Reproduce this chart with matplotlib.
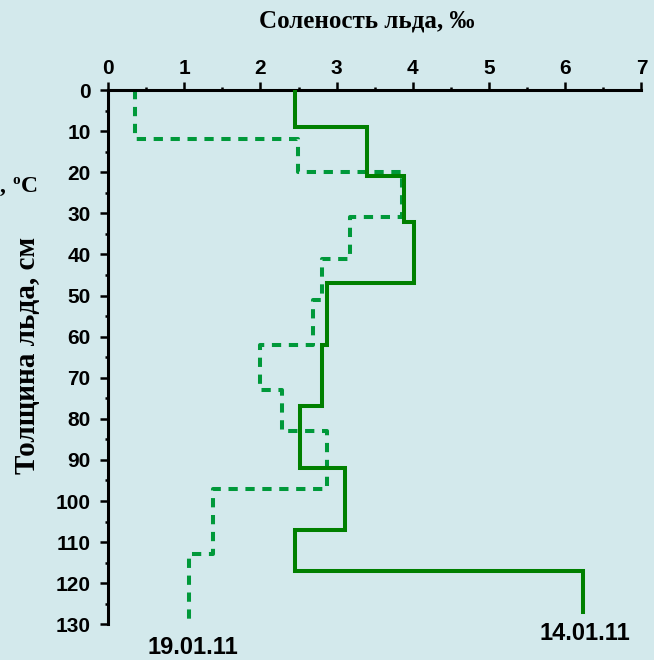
import matplotlib.pyplot as plt
import numpy as np
from matplotlib.ticker import MultipleLocator

BG = '#D3E9EC'
W, H = 654, 660

# solid profile 14.01.11: salinity per layer, layer boundaries in cm
depth_14 = [0, 9, 21, 32, 47, 62, 77, 92, 107, 117, 127]
sal_14 = [2.46, 3.40, 3.89, 4.01, 2.87, 2.81, 2.52, 3.11, 2.45, 6.23]

# dashed profile 19.01.11
depth_19 = [0, 12, 20, 31, 41, 51, 62, 73, 83, 97, 113, 130]
sal_19 = [0.36, 2.49, 3.86, 3.17, 2.81, 2.69, 1.99, 2.28, 2.87, 1.38, 1.06]

x_ticks = [0, 1, 2, 3, 4, 5, 6, 7]
y_ticks = list(range(0, 131, 10))


def profile(depths, vals):
    # each layer is a vertical segment, joined by horizontal steps
    xs = np.repeat(vals, 2)
    ys = np.repeat(depths, 2)[1:-1]
    return xs, ys


def px(x, y):
    return x / W, 1 - y / H


sans = ['Liberation Sans', 'DejaVu Sans']
serif = ['Liberation Serif', 'DejaVu Serif']

fig = plt.figure(figsize=(W / 100, H / 100), dpi=100, facecolor=BG)
ax = fig.add_axes([108 / W, 1 - 624.3 / H, 533.4 / W, 534.3 / H])
ax.set_facecolor(BG)

x, y = profile(depth_14, sal_14)
ax.plot(x, y, color='#008000', lw=2.9, solid_joinstyle='miter', zorder=3)
x, y = profile(depth_19, sal_19)
ax.plot(x, y, color='#00993A', lw=2.9, ls=(0, (2.3, 1.9)), zorder=2)

ax.set_xlim(0, 7)
ax.set_ylim(130, 0)
ax.xaxis.tick_top()
ax.set_xticks(x_ticks)
ax.set_yticks(y_ticks)
ax.xaxis.set_minor_locator(MultipleLocator(0.5))
ax.yaxis.set_minor_locator(MultipleLocator(5))

for side in ['right', 'bottom']:
    ax.spines[side].set_visible(False)
for side in ['top', 'left']:
    ax.spines[side].set_linewidth(2.2)
    ax.spines[side].set_color('black')

ax.tick_params(which='major', direction='out', length=5.5, width=1.8, color='black')
ax.tick_params(which='minor', direction='out', length=2.5, width=1.8, color='black')
ax.tick_params(axis='x', which='major', pad=3)
ax.tick_params(axis='y', which='major', pad=7)
for lab in ax.get_xticklabels() + ax.get_yticklabels():
    lab.set_family(sans)
    lab.set_fontweight('bold')
    lab.set_fontsize(15)

# axis titles
fig.text(*px(367, 28), 'Соленость льда, ‰', ha='center', va='baseline',
         family=serif, fontweight='bold', fontsize=18)
fig.text(*px(28, 355), 'Толщина льда, см', ha='center', va='center',
         rotation=90, family=serif, fontweight='bold', fontsize=21)

# profile dates
fig.text(*px(193, 648), '19.01.11', ha='center', va='center',
         family=sans, fontweight='bold', fontsize=17)
fig.text(*px(585, 634), '14.01.11', ha='center', va='center',
         family=sans, fontweight='bold', fontsize=17)

# remnant of a neighbouring temperature label at the left edge
fig.text(*px(0, 192), ',', ha='left', va='baseline',
         family=serif, fontweight='bold', fontsize=17)
fig.text(*px(12, 184), 'o', ha='left', va='baseline',
         family=serif, fontweight='bold', fontsize=11)
fig.text(*px(21, 192), 'C', ha='left', va='baseline',
         family=serif, fontweight='bold', fontsize=17)
fig.text(*px(-5, 231), 'о', ha='center', va='center', rotation=90,
         family=serif, fontweight='bold', fontsize=17)

fig.savefig('out.png', dpi=100, facecolor=BG)
